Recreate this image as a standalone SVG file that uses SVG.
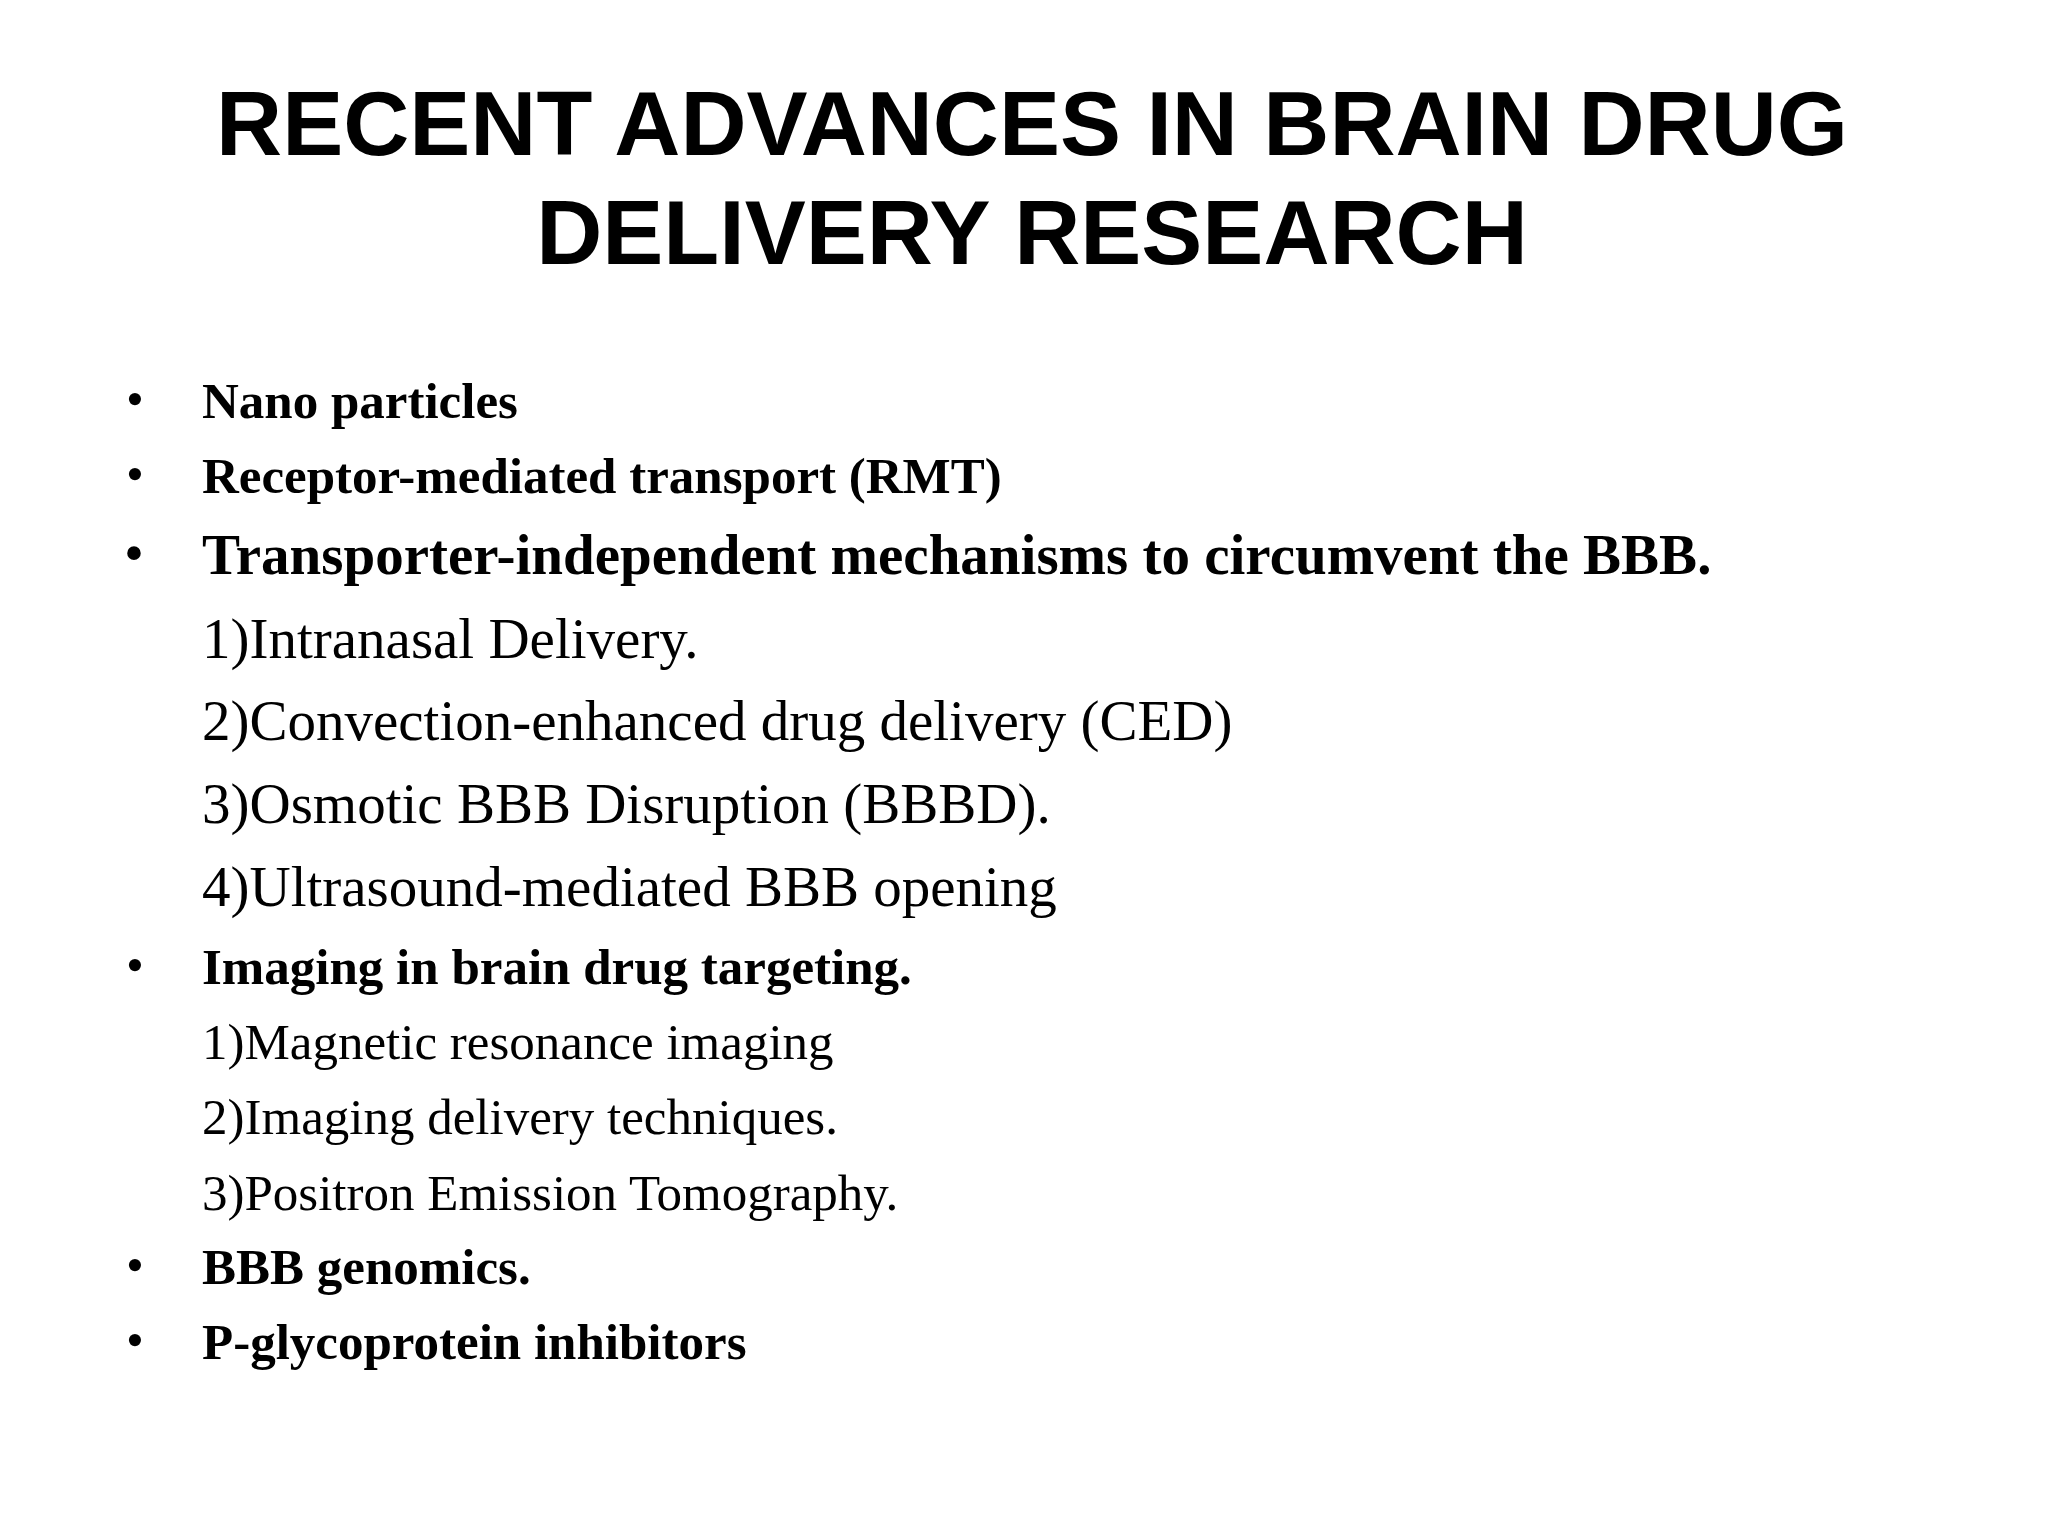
<svg xmlns="http://www.w3.org/2000/svg" width="2048" height="1536" viewBox="0 0 2048 1536">
<style>
.t{font-family:"Liberation Sans",Arial,sans-serif;font-weight:bold;font-size:91.5px;fill:#000;text-anchor:middle}
.b{font-family:"Liberation Serif","Times New Roman",serif;font-weight:bold;fill:#000}
.r{font-family:"Liberation Serif","Times New Roman",serif;fill:#000}
.s{font-size:51px}.m{font-size:57px}
</style>
<rect width="2048" height="1536" fill="#fff"/>
<g id="title">
<text class="t" x="1032" y="155">RECENT ADVANCES IN BRAIN DRUG</text>
<text class="t" x="1032" y="264">DELIVERY RESEARCH</text>
</g>
<g id="list">
<text class="r s" x="126" y="416">•</text><text class="b s" x="202" y="418">Nano particles</text>
<text class="r s" x="126" y="491">•</text><text class="b s" x="202" y="493">Receptor-mediated transport (RMT)</text>
<text class="r m" x="124" y="572">•</text><text class="b m" x="202" y="574">Transporter-independent mechanisms to circumvent the BBB<tspan class="r">.</tspan></text>
<text class="r m" x="202" y="658">1)Intranasal Delivery.</text>
<text class="r m" x="202" y="740">2)Convection-enhanced drug delivery (CED)</text>
<text class="r m" x="202" y="823">3)Osmotic BBB Disruption (BBBD).</text>
<text class="r m" x="202" y="906">4)Ultrasound-mediated BBB opening</text>
<text class="r s" x="126" y="982">•</text><text class="b s" x="202" y="984">Imaging in brain drug targeting<tspan class="r">.</tspan></text>
<text class="r s" x="202" y="1059">1)Magnetic resonance imaging</text>
<text class="r s" x="202" y="1134">2)Imaging delivery techniques.</text>
<text class="r s" x="202" y="1210">3)Positron Emission Tomography.</text>
<text class="r s" x="126" y="1282">•</text><text class="b s" x="202" y="1284">BBB genomics.</text>
<text class="r s" x="126" y="1357">•</text><text class="b s" x="202" y="1359">P-glycoprotein inhibitors</text>
</g>
</svg>
